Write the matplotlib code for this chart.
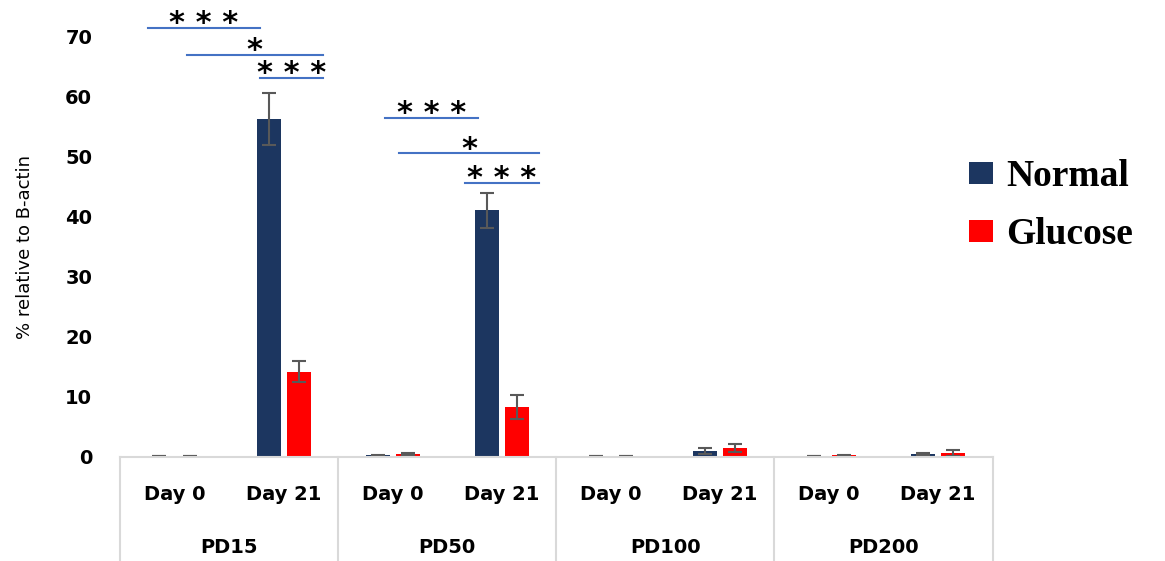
import matplotlib
matplotlib.use("Agg")
import matplotlib.pyplot as plt
import matplotlib.transforms as mtransforms
import numpy as np

groups = ["PD15", "PD50", "PD100", "PD200"]
days = ["Day 0", "Day 21"]

# values per (group, day), flattened in order PD15 D0, PD15 D21, PD50 D0, ...
normal = [0.1, 56.2, 0.3, 41.0, 0.1, 1.0, 0.1, 0.5]
normal_err = [0.0, 4.4, 0.1, 2.9, 0.0, 0.5, 0.0, 0.1]
glucose = [0.1, 14.2, 0.5, 8.3, 0.1, 1.5, 0.3, 0.6]
glucose_err = [0.0, 1.8, 0.1, 2.0, 0.0, 0.7, 0.1, 0.5]

# significance brackets: (x start, x end, height, label)
brackets = [
    (0.26, 1.28, 71.3, "* * *"),
    (0.61, 1.86, 66.8, "*"),
    (1.28, 1.86, 63.0, "* * *"),
    (2.43, 3.28, 56.4, "* * *"),
    (2.56, 3.84, 50.5, "*"),
    (3.16, 3.84, 45.6, "* * *"),
]

navy = "#1c3660"
red = "#ff0000"

fig = plt.figure(figsize=(11.65, 5.61), dpi=100)
ax = fig.add_axes([0.103, 0.1854, 0.749, 0.7504])

x = np.arange(len(normal)) + 0.5
w = 0.22
off = 0.138
ekw = dict(ecolor="#595959", elinewidth=1.5, capsize=5, capthick=1.5)
ax.bar(x - off, normal, w, yerr=normal_err, color=navy, label="Normal", error_kw=ekw)
ax.bar(x + off, glucose, w, yerr=glucose_err, color=red, label="Glucose", error_kw=ekw)

ax.set_xlim(0, 8)
ax.set_ylim(0, 70)
ax.set_yticks(np.arange(0, 71, 10))
ax.tick_params(axis="y", length=0, pad=20)
for t in ax.get_yticklabels():
    t.set_fontsize(14)
    t.set_fontweight("bold")
ax.set_xticks([])
for s in ["top", "right", "left"]:
    ax.spines[s].set_visible(False)
ax.spines["bottom"].set_color("#d9d9d9")
ax.spines["bottom"].set_linewidth(1.5)
ax.set_ylabel("% relative to B-actin", fontsize=13)
ax.yaxis.set_label_coords(-0.098, 0.5)

trans = mtransforms.blended_transform_factory(ax.transData, ax.transAxes)
for i in range(len(groups) + 1):
    ax.plot([2 * i, 2 * i], [0, -0.26], color="#d9d9d9", lw=1.5,
            transform=trans, clip_on=False)
for i, xi in enumerate(x):
    ax.text(xi, -0.088, days[i % 2], transform=trans, ha="center", va="center",
            fontsize=14, fontweight="bold")
for i, g in enumerate(groups):
    ax.text(2 * i + 1, -0.216, g, transform=trans, ha="center", va="center",
            fontsize=14, fontweight="bold")

for x0, x1, h, lab in brackets:
    ax.plot([x0, x1], [h, h], color="#4472c4", lw=1.5, clip_on=False)
    ax.text((x0 + x1) / 2, h - 1.7, lab, ha="center", va="bottom", fontsize=22,
            fontweight="bold")

leg = ax.legend(loc="upper left", bbox_to_anchor=(0.952, 0.752), frameon=False,
                prop={"family": "Liberation Serif", "weight": "bold", "size": 27},
                handlelength=0.62, handleheight=0.55, handletextpad=0.35,
                labelspacing=0.62, borderpad=0)

fig.savefig("out.png", dpi=100)
